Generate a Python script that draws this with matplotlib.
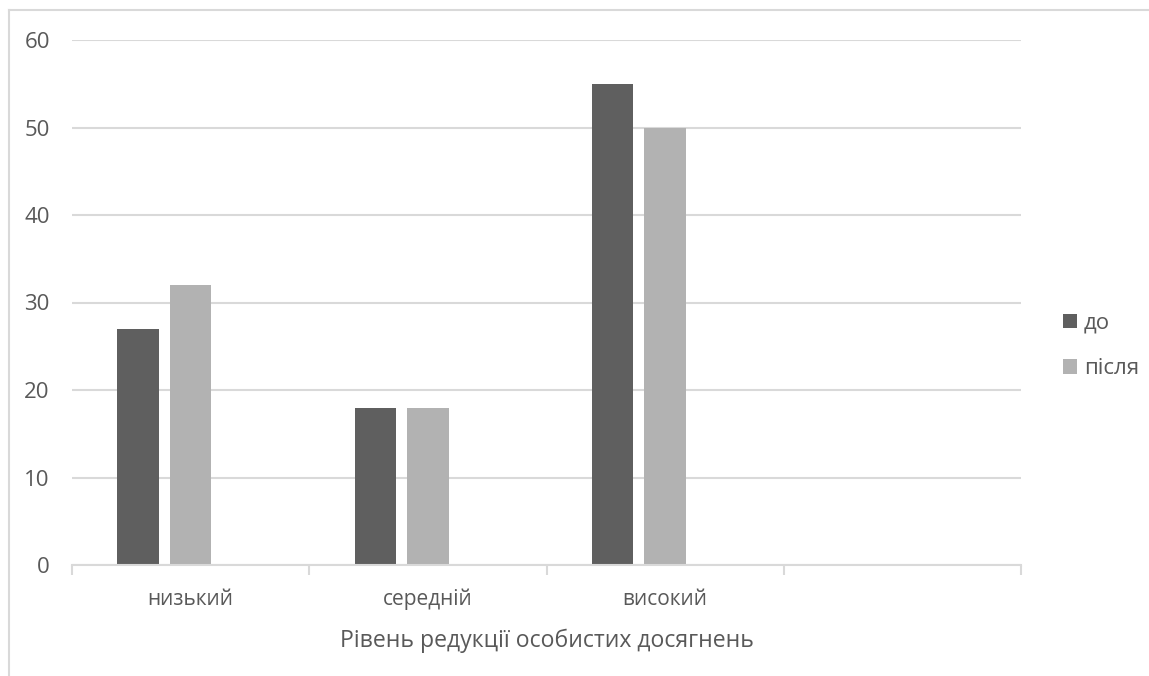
import numpy as np
import matplotlib.pyplot as plt
from matplotlib.lines import Line2D
from matplotlib.patches import Patch

plt.rcParams['font.family'] = ['Open Sans', 'DejaVu Sans']

categories = ["низький", "середній", "високий", ""]
before = [27, 18, 55]
after = [32, 18, 50]
series_names = ["до", "після"]
y_ticks = [0, 10, 20, 30, 40, 50, 60]
x_title = "Рівень редукції особистих досягнень"

text_col = "#595959"
grid_col = "#d9d9d9"
dark = "#5f5f5f"
light = "#b2b2b2"

fig = plt.figure(figsize=(11.49, 6.76), dpi=100)
ax = fig.add_axes([72 / 1149, 1 - 565 / 676, (1021 - 72) / 1149, (565 - 40) / 676])

# three bar slots per category, third one is empty
x = np.arange(len(before)) + 0.5
w = 0.175
step = 0.2213
ax.bar(x - step, before, width=w, color=dark, zorder=3)
ax.bar(x, after, width=w, color=light, zorder=3)

ax.set_xlim(0, 4)
ax.set_ylim(0, 60)
ax.set_yticks(y_ticks)
ax.set_yticklabels([str(t) for t in y_ticks], fontsize=16, color=text_col)
ax.yaxis.grid(True, color=grid_col, linewidth=1.5, zorder=0)
ax.tick_params(axis='y', length=0, pad=16)

# category boundary ticks on the x axis, labels centred in slots
ax.set_xticks(np.arange(5))
ax.set_xticklabels([])
ax.set_xticks(np.arange(4) + 0.5, minor=True)
ax.set_xticklabels(categories, minor=True, fontsize=15, color=text_col)
ax.tick_params(axis='x', which='major', length=7, width=1.5, color=grid_col, direction='out')
ax.tick_params(axis='x', which='minor', length=0, pad=17)

for s in ['top', 'right', 'left']:
    ax.spines[s].set_visible(False)
ax.spines['bottom'].set_color(grid_col)
ax.spines['bottom'].set_linewidth(1.5)
ax.spines['bottom'].set_zorder(4)

ax.set_xlabel(x_title, fontsize=16.6, color=text_col, labelpad=13)

handles = [Patch(facecolor=dark), Patch(facecolor=light)]
fig.legend(handles, series_names, loc='center left', bbox_to_anchor=(1043 / 1149, 1 - 346 / 676),
           frameon=False, fontsize=16, labelcolor=text_col, handlelength=0.65, handleheight=0.65,
           handletextpad=0.3, labelspacing=1.1)

# chart area outline
fig.add_artist(Line2D([8.5 / 1149, 8.5 / 1149], [0, 1 - 10 / 676], color=grid_col, lw=1.5))
fig.add_artist(Line2D([8.5 / 1149, 1], [1 - 10 / 676, 1 - 10 / 676], color=grid_col, lw=1.5))

fig.savefig("out.png", dpi=100)
